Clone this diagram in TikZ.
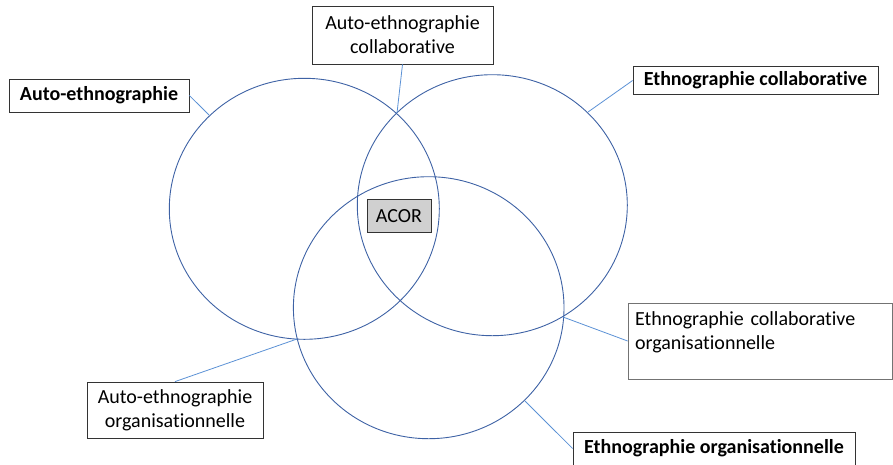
\documentclass[tikz,border=0pt]{standalone}
\usepackage{fontspec}
\setmainfont[Ligatures=NoCommon]{Carlito}
\usepackage{tikz}
\usetikzlibrary{positioning}

\definecolor{ringblue}{RGB}{62,98,165}
\definecolor{linkblue}{RGB}{91,145,213}
\definecolor{boxgray}{RGB}{208,208,208}

\tikzset{
	ring/.style={draw=ringblue, line width=0.9pt},
	link/.style={draw=linkblue, line width=0.8pt},
	label/.style={draw=black!80, line width=0.8pt, fill=white, inner sep=3pt,
		align=center, font=\fontsize{20}{24}\selectfont},
}

\begin{document}
\begin{tikzpicture}[x=1pt, y=-1pt]
	\useasboundingbox (0,0) rectangle (893,464);
	% the three sets
	\draw[ring] (304.3,208.8) ellipse [x radius=135, y radius=130.5];
	\draw[ring] (492.3,205.2) ellipse [x radius=135, y radius=130.5];
	\draw[ring] (428.7,307.7) ellipse [x radius=135.3, y radius=131];
	% points on the rings
	\coordinate (pAuto) at (209,115);
	\coordinate (pAutoCollab) at (397,113);
	\coordinate (pCollab) at (588,112);
	\coordinate (pCollabOrg) at (563,317);
	\coordinate (pAutoOrg) at (297,339);
	\coordinate (pOrg) at (525,401);
	% labels
	\node[label, minimum width=64, minimum height=33, fill=boxgray] (acor) at (399,216) {ACOR};
	\node[label, minimum width=180, minimum height=33, font=\fontsize{20}{24}\selectfont\bfseries] (auto) at (99,95.5) {Auto-ethnographie};
	\node[label, minimum width=181, minimum height=58] (autoCollab) at (402.5,35) {Auto-ethnographie\\collaborative};
	\node[label, minimum width=245, minimum height=28, font=\fontsize{20}{24}\selectfont\bfseries] (collab) at (755.5,80.5) {Ethnographie collaborative};
	\node[label, draw=black!55, minimum width=264, minimum height=76, align=left, text width=250] (collabOrg) at (760,341) {Ethnographie collaborative\\organisationnelle\\[-4pt]\mbox{}};
	\node[label, minimum width=176, minimum height=56] (autoOrg) at (175,410) {Auto-ethnographie\\organisationnelle};
	\node[label, minimum width=282, minimum height=33, font=\fontsize{20}{24}\selectfont\bfseries] (org) at (714,448.5) {Ethnographie organisationnelle};
	% connectors
	\draw[link] (auto.east) -- (pAuto);
	\draw[link] (autoCollab.south) -- (pAutoCollab);
	\draw[link] (collab.west) -- (pCollab);
	\draw[link] (collabOrg.west) -- (pCollabOrg);
	\draw[link] (autoOrg.north) -- (pAutoOrg);
	\draw[link] (org.west) -- (pOrg);
\end{tikzpicture}
\end{document}
